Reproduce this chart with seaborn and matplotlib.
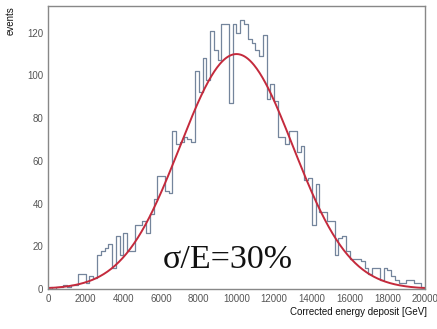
import numpy as np
import pandas as pd
import matplotlib
matplotlib.use("Agg")
import matplotlib.pyplot as plt
import seaborn as sns
from matplotlib.ticker import MultipleLocator

# histogram: 100 bins of 200 GeV from 0 to 20000
bin_edges = list(range(0, 20001, 200))
counts = [1, 0, 1, 1, 2, 1, 2, 2, 7, 7,
          3, 6, 5, 16, 18, 19, 21, 10, 25, 16,
          26, 18, 18, 30, 30, 32, 26, 35, 42, 53,
          53, 46, 45, 74, 68, 69, 71, 70, 69, 102,
          92, 108, 98, 121, 112, 107, 124, 124, 87, 124,
          120, 126, 124, 117, 115, 112, 109, 119, 89, 96,
          88, 71, 71, 68, 74, 74, 64, 67, 51, 52,
          30, 49, 36, 36, 32, 32, 16, 24, 25, 18,
          14, 14, 14, 13, 10, 7, 10, 10, 4, 10,
          9, 6, 4, 3, 3, 4, 4, 3, 3, 1]

# gaussian fit parameters
fit_amp = 110
fit_mean = 10000
fit_sigma = 3000
label_text = "σ/E=30%"

centers = [(a + b) / 2 for a, b in zip(bin_edges[:-1], bin_edges[1:])]
df = pd.DataFrame({"energy": centers, "events": counts})
xs = np.linspace(0, 20000, 400)
fit = fit_amp * np.exp(-(xs - fit_mean) ** 2 / (2 * fit_sigma ** 2))

sns.set_style("white")
plt.rcParams['font.family'] = ['Liberation Sans', 'DejaVu Sans']

fig = plt.figure(figsize=(4.37, 3.29), dpi=100)
ax = fig.add_axes([0.1098, 0.1216, 0.8627, 0.8602])

sns.histplot(data=df, x="energy", weights="events", bins=bin_edges,
             element="step", fill=False, color="#74859c", linewidth=0.9, ax=ax)
sns.lineplot(x=xs, y=fit, color="#c42a3c", linewidth=1.4, ax=ax)

ax.set_xlim(0, 20000)
ax.set_ylim(0, 132.5)
ax.xaxis.set_major_locator(MultipleLocator(2000))
ax.xaxis.set_minor_locator(MultipleLocator(400))
ax.yaxis.set_major_locator(MultipleLocator(20))
ax.yaxis.set_minor_locator(MultipleLocator(4))
ax.tick_params(which="both", direction="in", top=False, right=False,
               colors="#777777", labelcolor="#555555", labelsize=7)
ax.tick_params(which="major", length=7, width=0.8)
ax.tick_params(which="minor", length=3.5, width=0.8)
for s in ax.spines.values():
    s.set_color("#888888")
    s.set_linewidth(1.0)

ax.set_xlabel("")
ax.set_ylabel("")
fig.text(0.978, 0.035, "Corrected energy deposit [GeV]", ha="right",
         va="bottom", fontsize=7, color="#111111")
fig.text(0.012, 0.98, "events", ha="left", va="top", rotation=90,
         fontsize=7, color="#111111")
ax.text(9550, 10, label_text, family=["Liberation Serif", "DejaVu Serif"],
        fontsize=24.5, color="#111111", ha="center", va="baseline")

fig.savefig("out.png", dpi=100)
